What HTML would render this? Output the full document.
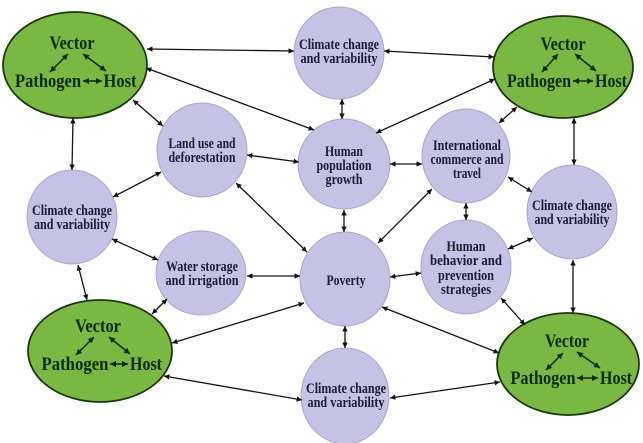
<!DOCTYPE html>
<html><head><meta charset="utf-8"><style>
html,body{margin:0;padding:0;background:#fff;}
svg{display:block;}
.lv{fill:#c6c2e6;stroke:#a9a5cf;stroke-width:1;}
.gr{fill:#78b843;stroke:#1c3a0c;stroke-width:1.8;}
.tl{font-family:"Liberation Serif",serif;font-weight:bold;font-size:15px;fill:#1b1b33;text-anchor:middle;}
.tg{font-family:"Liberation Serif",serif;font-weight:bold;font-size:18.5px;fill:#102a08;text-anchor:middle;}
.c{stroke:#141414;stroke-width:1.3;fill:none;marker-start:url(#ah);marker-end:url(#ah);}
.ci{stroke:#102a08;stroke-width:1.5;fill:none;marker-start:url(#ag);marker-end:url(#ag);}
</style></head><body>
<svg width="643" height="443" viewBox="0 0 643 443" xmlns="http://www.w3.org/2000/svg">
<defs>
<marker id="ah" viewBox="0 0 10 10" refX="10" refY="5" markerWidth="4.2" markerHeight="4.2" orient="auto-start-reverse" markerUnits="strokeWidth"><path d="M0,0 L10,5 L0,10 z" fill="#141414"/></marker>
<marker id="ag" viewBox="0 0 10 10" refX="10" refY="5" markerWidth="4" markerHeight="4" orient="auto-start-reverse" markerUnits="strokeWidth"><path d="M0,0 L10,5 L0,10 z" fill="#102a08"/></marker>
</defs>

<!-- green ellipses -->
<ellipse class="gr" cx="75" cy="65" rx="72" ry="53"/>
<ellipse class="gr" cx="563" cy="67" rx="70" ry="51"/>
<ellipse class="gr" cx="100" cy="351" rx="72" ry="51"/>
<ellipse class="gr" cx="568" cy="364" rx="71" ry="51"/>

<!-- lavender nodes -->
<ellipse class="lv" cx="339" cy="53" rx="45" ry="46"/>
<ellipse class="lv" cx="344" cy="164" rx="46" ry="45"/>
<ellipse class="lv" cx="466" cy="156" rx="44" ry="47"/>
<ellipse class="lv" cx="572" cy="212" rx="45" ry="47"/>
<ellipse class="lv" cx="202" cy="150" rx="45" ry="47"/>
<ellipse class="lv" cx="72" cy="217" rx="45" ry="47"/>
<ellipse class="lv" cx="201" cy="273" rx="45" ry="42"/>
<ellipse class="lv" cx="345" cy="279" rx="45" ry="47"/>
<ellipse class="lv" cx="466" cy="267" rx="45" ry="47"/>
<ellipse class="lv" cx="345" cy="396" rx="44" ry="48"/>

<!-- connectors -->
<line class="c" x1="147" y1="49" x2="294" y2="51"/>
<line class="c" x1="384" y1="51" x2="494" y2="57"/>
<line class="c" x1="146" y1="68" x2="314" y2="130"/>
<line class="c" x1="495" y1="79" x2="376" y2="133"/>
<line class="c" x1="342" y1="99" x2="342" y2="119"/>
<line class="c" x1="133" y1="100" x2="163" y2="126"/>
<line class="c" x1="73" y1="118" x2="72" y2="170"/>
<line class="c" x1="247" y1="155" x2="299" y2="162"/>
<line class="c" x1="390" y1="164" x2="422" y2="164"/>
<line class="c" x1="236" y1="183" x2="307" y2="252"/>
<line class="c" x1="378" y1="243" x2="432" y2="189"/>
<line class="c" x1="344" y1="210" x2="344" y2="232"/>
<line class="c" x1="466" y1="203" x2="466" y2="220"/>
<line class="c" x1="508" y1="177" x2="532" y2="192"/>
<line class="c" x1="574" y1="118" x2="574" y2="165"/>
<line class="c" x1="517" y1="107" x2="499" y2="123"/>
<line class="c" x1="113" y1="197" x2="161" y2="172"/>
<line class="c" x1="112" y1="239" x2="158" y2="260"/>
<line class="c" x1="78" y1="265" x2="87" y2="300"/>
<line class="c" x1="247" y1="276" x2="300" y2="276"/>
<line class="c" x1="167" y1="299" x2="152" y2="314"/>
<line class="c" x1="172" y1="343" x2="304" y2="303"/>
<line class="c" x1="390" y1="277" x2="421" y2="273"/>
<line class="c" x1="382" y1="307" x2="499" y2="353"/>
<line class="c" x1="508" y1="249" x2="533" y2="238"/>
<line class="c" x1="501" y1="298" x2="525" y2="325"/>
<line class="c" x1="573" y1="260" x2="573" y2="313"/>
<line class="c" x1="345" y1="326" x2="345" y2="348"/>
<line class="c" x1="164" y1="376" x2="302" y2="400"/>
<line class="c" x1="390" y1="398" x2="500" y2="382"/>

<!-- lavender labels -->
<text class="tl" x="339" y="49" textLength="80" lengthAdjust="spacingAndGlyphs">Climate change</text>
<text class="tl" x="339" y="63" textLength="77" lengthAdjust="spacingAndGlyphs">and variability</text>

<text class="tl" x="344" y="156" textLength="38" lengthAdjust="spacingAndGlyphs">Human</text>
<text class="tl" x="344" y="170" textLength="55" lengthAdjust="spacingAndGlyphs">population</text>
<text class="tl" x="344" y="184" textLength="37" lengthAdjust="spacingAndGlyphs">growth</text>

<text class="tl" x="467" y="150" textLength="68" lengthAdjust="spacingAndGlyphs">International</text>
<text class="tl" x="467" y="164" textLength="73" lengthAdjust="spacingAndGlyphs">commerce and</text>
<text class="tl" x="467" y="178" textLength="28" lengthAdjust="spacingAndGlyphs">travel</text>

<text class="tl" x="572" y="210" textLength="80" lengthAdjust="spacingAndGlyphs">Climate change</text>
<text class="tl" x="572" y="224" textLength="75" lengthAdjust="spacingAndGlyphs">and variability</text>

<text class="tl" x="202" y="148" textLength="67" lengthAdjust="spacingAndGlyphs">Land use and</text>
<text class="tl" x="202" y="162" textLength="67" lengthAdjust="spacingAndGlyphs">deforestation</text>

<text class="tl" x="72" y="215" textLength="80" lengthAdjust="spacingAndGlyphs">Climate change</text>
<text class="tl" x="72" y="229" textLength="76" lengthAdjust="spacingAndGlyphs">and variability</text>

<text class="tl" x="202" y="271" textLength="72" lengthAdjust="spacingAndGlyphs">Water storage</text>
<text class="tl" x="202" y="285" textLength="73" lengthAdjust="spacingAndGlyphs">and irrigation</text>

<text class="tl" x="346" y="285" textLength="39" lengthAdjust="spacingAndGlyphs">Poverty</text>

<text class="tl" x="466" y="251" textLength="39" lengthAdjust="spacingAndGlyphs">Human</text>
<text class="tl" x="466" y="265" textLength="72" lengthAdjust="spacingAndGlyphs">behavior and</text>
<text class="tl" x="466" y="280" textLength="56" lengthAdjust="spacingAndGlyphs">prevention</text>
<text class="tl" x="466" y="294" textLength="50" lengthAdjust="spacingAndGlyphs">strategies</text>

<text class="tl" x="346" y="393" textLength="80" lengthAdjust="spacingAndGlyphs">Climate change</text>
<text class="tl" x="346" y="407" textLength="77" lengthAdjust="spacingAndGlyphs">and variability</text>

<!-- green labels TL -->
<text class="tg" x="72" y="49" textLength="45" lengthAdjust="spacingAndGlyphs">Vector</text>
<text class="tg" x="48" y="87" textLength="66" lengthAdjust="spacingAndGlyphs">Pathogen</text>
<text class="tg" x="120" y="87" textLength="33" lengthAdjust="spacingAndGlyphs">Host</text>
<line class="ci" x1="50" y1="72" x2="68" y2="54"/>
<line class="ci" x1="83" y1="54" x2="106" y2="71"/>
<line class="ci" x1="83" y1="81" x2="102" y2="81"/>

<!-- TR -->
<text class="tg" x="563" y="50" textLength="45" lengthAdjust="spacingAndGlyphs">Vector</text>
<text class="tg" x="539" y="87" textLength="64" lengthAdjust="spacingAndGlyphs">Pathogen</text>
<text class="tg" x="611" y="87" textLength="32" lengthAdjust="spacingAndGlyphs">Host</text>
<line class="ci" x1="542" y1="72" x2="558" y2="54"/>
<line class="ci" x1="575" y1="54" x2="596" y2="71"/>
<line class="ci" x1="573" y1="81" x2="593" y2="81"/>

<!-- BL -->
<text class="tg" x="98" y="332" textLength="46" lengthAdjust="spacingAndGlyphs">Vector</text>
<text class="tg" x="75" y="370" textLength="67" lengthAdjust="spacingAndGlyphs">Pathogen</text>
<text class="tg" x="146" y="370" textLength="32" lengthAdjust="spacingAndGlyphs">Host</text>
<line class="ci" x1="76" y1="355" x2="94" y2="337"/>
<line class="ci" x1="109" y1="337" x2="130" y2="354"/>
<line class="ci" x1="110" y1="364" x2="128" y2="364"/>

<!-- BR -->
<text class="tg" x="543" y="384" textLength="65" lengthAdjust="spacingAndGlyphs">Pathogen</text>
<text class="tg" x="567" y="347" textLength="44" lengthAdjust="spacingAndGlyphs">Vector</text>
<text class="tg" x="616" y="384" textLength="32" lengthAdjust="spacingAndGlyphs">Host</text>
<line class="ci" x1="546" y1="370" x2="563" y2="353"/>
<line class="ci" x1="577" y1="352" x2="600" y2="368"/>
<line class="ci" x1="577" y1="378" x2="598" y2="378"/>
</svg>
</body></html>
